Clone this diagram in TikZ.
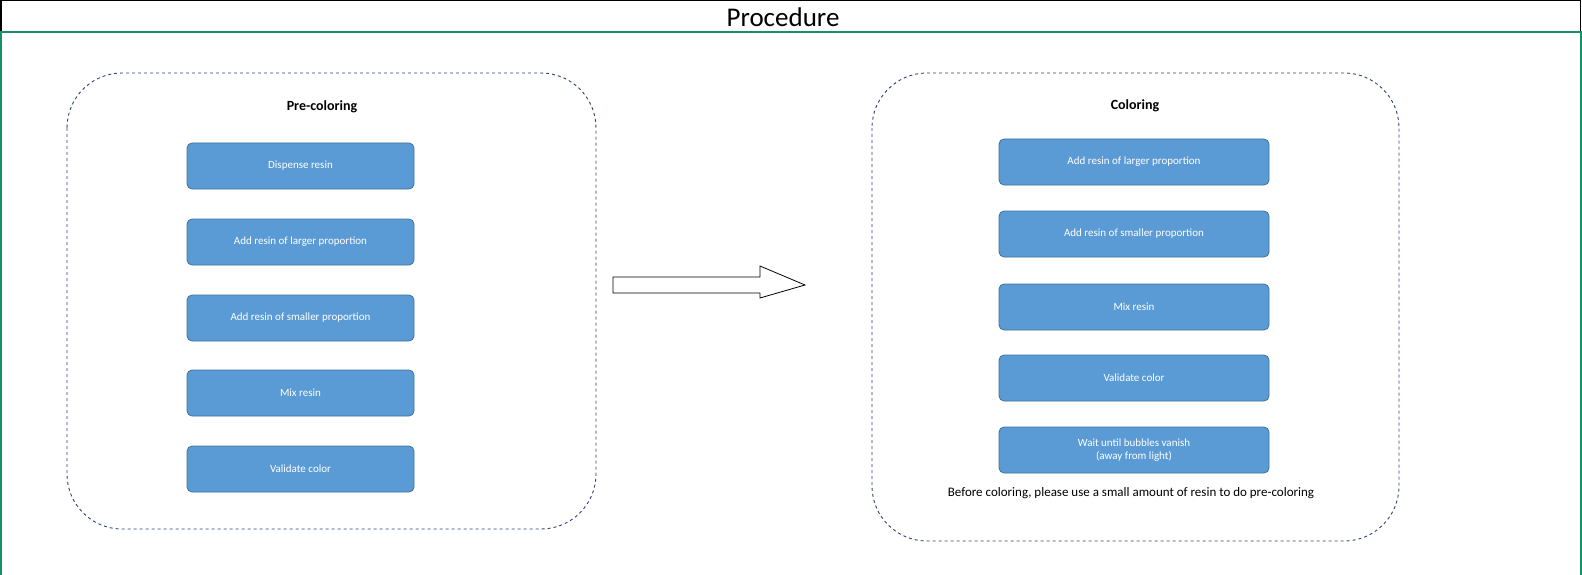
\documentclass[tikz,border=0pt]{standalone}
\usepackage{fontspec}
\setmainfont{Carlito}
\definecolor{boxfill}{HTML}{5B9BD5}
\definecolor{boxline}{HTML}{41719C}
\definecolor{dash}{HTML}{2F4070}
\definecolor{grn}{HTML}{17906A}
\begin{document}
\begin{tikzpicture}[x=1pt,y=-1pt,
  stepbox/.style={draw=boxline,fill=boxfill,rounded corners=5pt,text=white,font=\fontsize{11}{13}\selectfont,align=center,line width=0.8pt},
  group/.style={draw=dash,dashed,rounded corners=55pt,line width=0.9pt}]
\useasboundingbox (0,0) rectangle (1582,575);
\draw[black,line width=1.2pt] (1,575) -- (1,0.6) -- (1580.5,0.6) -- (1580.5,32);
\node (title) at (783,17) {\fontsize{27}{30}\selectfont Procedure};
\draw[grn,line width=2pt] (1,575) -- (1,32) -- (1581,32) -- (1581,575);
\draw[group] (67,73) rectangle (596,529);
\draw[group] (872,73) rectangle (1399,541);
\node[font=\bfseries\fontsize{14}{16}\selectfont] (t1) at (322,107) {Pre-coloring};
\node[font=\bfseries\fontsize{14}{16}\selectfont] (t2) at (1135,106) {Coloring};
\foreach \y/\t [count=\i] in {166/Dispense resin,242/Add resin of larger proportion,318/Add resin of smaller proportion,393/Mix resin,469/Validate color}
  \node[stepbox,minimum width=227pt,minimum height=46pt] (l\i) at (300.5,\y) {\t};
\foreach \y/\t [count=\i] in {162/Add resin of larger proportion,234/Add resin of smaller proportion,307/Mix resin,378/Validate color,450/{Wait until bubbles vanish\\(away from light)}}
  \node[stepbox,minimum width=270pt,minimum height=46pt] (r\i) at (1134,\y) {\t};
\node[font=\fontsize{13}{15}\selectfont] (note) at (1131,493) {Before coloring, please use a small amount of resin to do pre-coloring};
\draw[line width=0.8pt,fill=white] (613,277) -- (760,277) -- (760,266) -- (805,285) -- (760,298) -- (760,293) -- (613,293) -- cycle;
\end{tikzpicture}
\end{document}
